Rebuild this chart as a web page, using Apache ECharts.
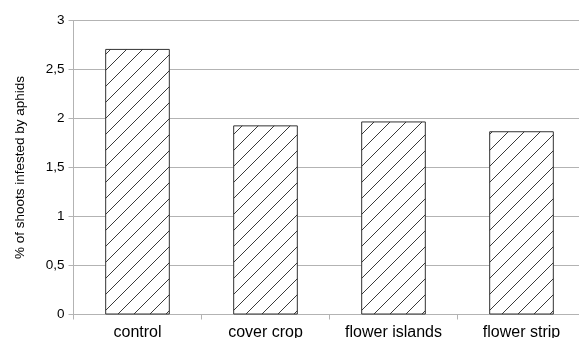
<!DOCTYPE html>
<html><head><meta charset="utf-8">
<script src="https://cdn.jsdelivr.net/npm/echarts@6/dist/echarts.min.js"></script>
<style>html,body{margin:0;padding:0;background:#fff}#c{width:579px;height:338px}</style>
</head><body><div id="c"></div>
<script>
const categories = ['control', 'cover crop', 'flower islands', 'flower strip'];
const values = [2.71, 1.93, 1.97, 1.87];
const yTicks = [0, 0.5, 1, 1.5, 2, 2.5, 3];

function hatch() {
  const s = 16;
  const cv = document.createElement('canvas');
  cv.width = s; cv.height = s;
  const g = cv.getContext('2d');
  g.fillStyle = '#fff'; g.fillRect(0, 0, s, s);
  g.strokeStyle = '#3a3a3a'; g.lineWidth = 1;
  g.beginPath();
  for (let k = -1; k <= 1; k++) {
    g.moveTo(k * s, s); g.lineTo(k * s + s, 0);
  }
  g.stroke();
  return cv;
}

const chart = echarts.init(document.getElementById('c'), null, {renderer: 'canvas'});
chart.setOption({
  animation: false,
  grid: {left: 73.5, width: 512, top: 20.5, bottom: 23.5, containLabel: false, outerBoundsMode: 'none'},
  xAxis: {
    type: 'category', data: categories,
    axisLine: {lineStyle: {color: '#b3b3b3'}},
    axisTick: {show: true, length: 5, lineStyle: {color: '#b3b3b3'}},
    axisLabel: {color: '#000', fontSize: 16, fontFamily: 'Liberation Sans', margin: 10}
  },
  yAxis: {
    type: 'value', min: 0, max: 3, interval: 0.5,
    name: '% of shoots infested by aphids', nameLocation: 'middle', nameGap: 46,
    nameTextStyle: {color: '#000', fontSize: 13.5, fontFamily: 'Liberation Sans'},
    axisLine: {show: true, lineStyle: {color: '#b3b3b3'}},
    axisTick: {show: true, length: 5, lineStyle: {color: '#b3b3b3'}},
    splitLine: {lineStyle: {color: '#b3b3b3'}},
    axisLabel: {color: '#000', fontSize: 13.5, fontFamily: 'Liberation Sans', margin: 9,
      formatter: v => yTicks.includes(v) ? String(v).replace('.', ',') : ''}
  },
  series: [{
    type: 'bar', data: values, barWidth: '50.5%',
    itemStyle: {color: {image: hatch(), repeat: 'repeat'}, borderColor: '#333', borderWidth: 1}
  }]
});
</script></body></html>
